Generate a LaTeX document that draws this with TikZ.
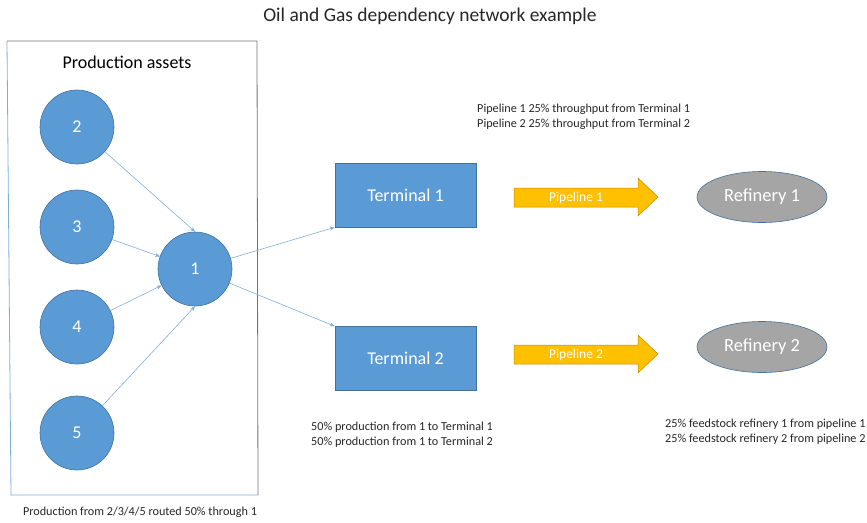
\documentclass[tikz,border=0pt]{standalone}
\usepackage{fontspec}
\setmainfont{Carlito}
\usetikzlibrary{shapes.geometric,arrows.meta}
\definecolor{mblue}{HTML}{5B9BD5}
\definecolor{dblue}{HTML}{41719C}
\definecolor{lblue}{HTML}{7FAEDD}
\definecolor{myellow}{HTML}{FFC000}
\definecolor{dyellow}{HTML}{BC8C00}
\definecolor{mgray}{HTML}{A5A5A5}
\definecolor{txt}{HTML}{262626}
\tikzset{
  asset/.style={circle, fill=mblue, draw=dblue, line width=0.6pt, minimum size=74pt, inner sep=0pt, text=white, font=\fontsize{18}{20}\selectfont},
  terminal/.style={rectangle, fill=mblue, draw=dblue, line width=0.6pt, minimum width=141pt, minimum height=64pt, inner sep=0pt, text=white, font=\fontsize{18}{20}\selectfont},
  refinery/.style={ellipse, fill=mgray, draw=dblue, line width=0.6pt, minimum width=130pt, minimum height=51pt, inner sep=0pt, text=white, font=\fontsize{18.5}{20}\selectfont},
  flow/.style={draw=lblue, line width=0.6pt, -{Stealth[length=5pt,width=4pt]}},
  pipe/.style={fill=myellow, draw=dyellow, line width=0.5pt},
  pipetext/.style={text=white, font=\fontsize{13.5}{15}\selectfont, inner sep=0pt},
  note/.style={text=txt, font=\fontsize{12.2}{14.5}\selectfont, align=left, inner sep=0pt},
}
\begin{document}
\begin{tikzpicture}[x=1pt,y=-1pt]
\useasboundingbox (0,0) rectangle (867,522);
% title
\node[text=txt, font=\fontsize{19.5}{22}\selectfont] (title) at (430,16) {Oil and Gas dependency network example};
% production assets frame
\draw[draw=lblue, line width=0.8pt] (7,41) -- (11,495) -- (258,495);
\draw[draw=gray!90!black, line width=0.8pt] (7,41) -- (257,41) -- (258,495);
\node[text=black, font=\fontsize{18}{20}\selectfont] (patitle) at (127,62) {Production assets};
% assets
\node[asset] (n2) at (77,127) {2};
\node[asset] (n3) at (77,227) {3};
\node[asset] (n4) at (77,327) {4};
\node[asset] (n5) at (77,433) {5};
\node[asset] (n1) at (195,269) {1};
% terminals
\node[terminal] (t1) at (405.5,195) {Terminal 1};
\node[terminal] (t2) at (405.5,358.5) {Terminal 2};
% refineries
\node[refinery] (r1) at (762,197) {Refinery 1};
\node[refinery] (r2) at (762,347) {Refinery 2};
% connectors
\draw[flow] (n2) -- (n1.north);
\draw[flow] (n3) -- (n1);
\draw[flow] (n4) -- (n1);
\draw[flow] (n5) -- (n1.south);
\draw[flow] (n1) -- (t1.south west);
\draw[flow] (n1) -- (t2.north west);
% pipelines
\draw[pipe] (514,188) -- (638,188) -- (638,178) -- (658,197) -- (638,216) -- (638,207) -- (514,207) -- cycle;
\node[pipetext] (p1) at (576,197.5) {Pipeline 1};
\draw[pipe] (514,345) -- (638,345) -- (638,335) -- (658,354) -- (638,373) -- (638,364) -- (514,364) -- cycle;
\node[pipetext] (p2) at (576,354.5) {Pipeline 2};
% notes
\node[note, anchor=north west] (note1) at (477,104) {Pipeline 1 25\% throughput from Terminal 1\\Pipeline 2 25\% throughput from Terminal 2};
\node[note, anchor=north west] (note2) at (311,422) {50\% production from 1 to Terminal 1\\50\% production from 1 to Terminal 2};
\node[note, anchor=north west] (note3) at (665,419) {25\% feedstock refinery 1 from pipeline 1\\25\% feedstock refinery 2 from pipeline 2};
\node[note] (note4) at (140,512) {Production from 2/3/4/5 routed 50\% through 1};
\end{tikzpicture}
\end{document}
